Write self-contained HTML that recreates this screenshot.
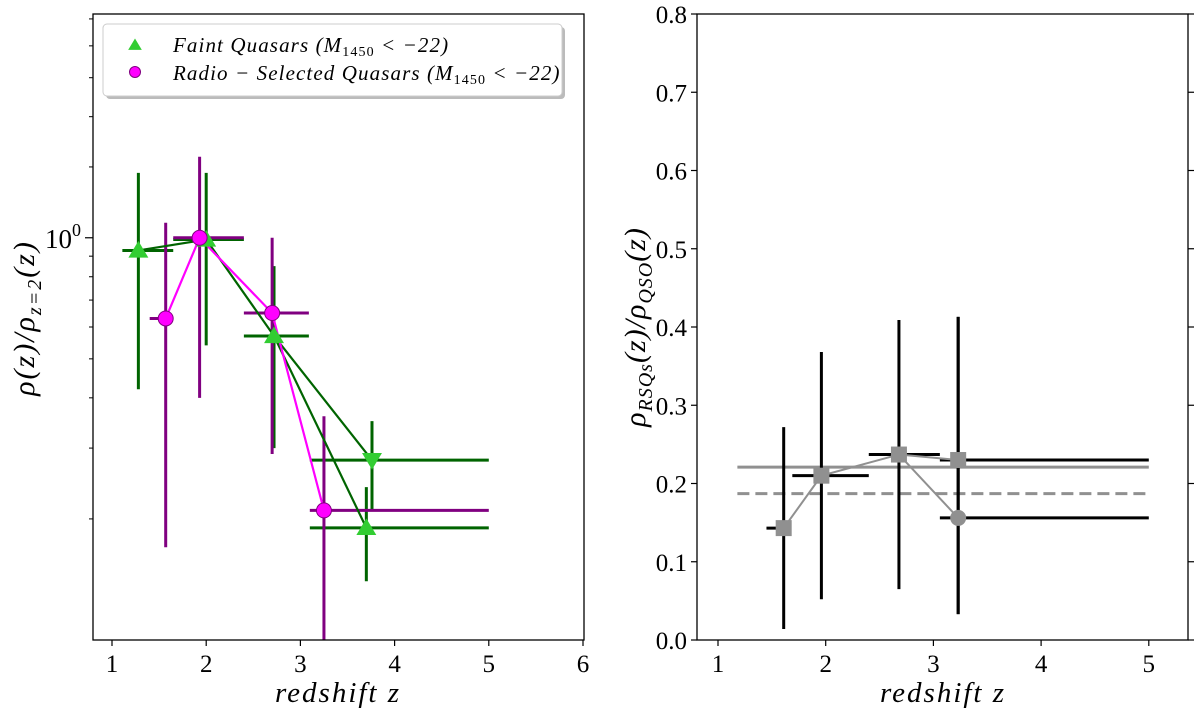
<!DOCTYPE html>
<html><head><meta charset="utf-8"><style>
html,body{margin:0;padding:0;background:#fff;overflow:hidden;width:1200px;height:715px;}
svg{display:block;font-family:"Liberation Serif",serif;}
</style></head><body>
<svg id="chart" width="1200" height="715" viewBox="0 0 1200 715"></svg>
<script>
// ---- Left panel data ----
const faintZ = [1.28, 2.0, 2.72, 3.76, 3.7];
const faintV = [0.93, 0.99, 0.57, 0.28, 0.19];
const faintLo = [0.42, 0.54, 0.30, 0.21, 0.14];
const faintHi = [1.45, 1.45, 0.85, 0.35, 0.24];
const faintZlo = [1.11, 1.65, 2.4, 3.1, 3.1];
const faintZhi = [1.65, 2.4, 3.09, 5.0, 5.0];
const faintMarker = ['up','up','up','down','up'];
const radioZ = [1.57, 1.93, 2.70, 3.25];
const radioV = [0.63, 1.0, 0.65, 0.21];
const radioLo = [0.17, 0.40, 0.29, 0.05];
const radioHi = [1.09, 1.59, 1.0, 0.36];
const radioZlo = [1.40, 1.65, 2.4, 3.1];
const radioZhi = [1.57, 2.4, 3.09, 5.0];
const leftXTicks = [1,2,3,4,5,6];
const leftMinorTicks = [0.2,0.3,0.4,0.5,0.6,0.7,0.8,0.9,1.5,2,2.5,3,3.5];
// ---- Right panel data ----
const ratioZ = [1.61, 1.96, 2.68, 3.23, 3.23];
const ratioV = [0.143, 0.210, 0.237, 0.230, 0.156];
const ratioLo = [0.014, 0.052, 0.065, 0.033, 0.033];
const ratioHi = [0.272, 0.368, 0.409, 0.413, 0.413];
const ratioZlo = [1.45, 1.69, 2.40, 3.06, 3.06];
const ratioZhi = [1.61, 2.40, 3.06, 5.0, 5.0];
const ratioMarker = ['sq','sq','sq','sq','ci'];
const meanSolid = [0.221];
const meanDashed = [0.187];
const meanSpan = [1.18, 5.0];
const rightXTicks = [1,2,3,4,5];
const rightYTicks = [0,0.1,0.2,0.3,0.4,0.5,0.6,0.7,0.8];

const NS='http://www.w3.org/2000/svg';
const svg=document.getElementById('chart');
function mk(tag,attrs,parent){const e=document.createElementNS(NS,tag);for(const k in attrs)e.setAttribute(k,attrs[k]);(parent||svg).appendChild(e);return e;}

const L={x0:93,x1:584,y0:14,y1:640};
const lx=z=>112+(z-1)*94.2;
const D=(L.y1-L.y0)/Math.log10(36);
const ly=v=>L.y1-(Math.log10(v)-Math.log10(0.1))*D;
const R={x0:697,x1:1188,y0:14,y1:640};
const rx=z=>718+(z-1)*107.7;
const ry=v=>R.y1-v*782.5;

function line(x1,y1,x2,y2,st,w,name,extra){const e=mk('line',Object.assign({x1,y1,x2,y2,stroke:st,'stroke-width':w},extra||{}));


return e;}
function text(x,y,s,size,name,extra){const e=mk('text',Object.assign({x,y,'font-size':size},extra||{}));e.textContent=s;


return e;}

const defs=mk('defs',{});
const cpL=mk('clipPath',{id:'clipL'},defs);mk('rect',{x:L.x0,y:L.y0,width:L.x1-L.x0,height:L.y1-L.y0},cpL);
const cpR=mk('clipPath',{id:'clipR'},defs);mk('rect',{x:R.x0,y:R.y0,width:R.x1-R.x0,height:R.y1-R.y0},cpR);
const gL=mk('g',{'clip-path':'url(#clipL)'});

faintZ.forEach((z,i)=>{
 let e=mk('line',{x1:lx(z),x2:lx(z),y1:ly(faintLo[i]),y2:ly(faintHi[i]),stroke:'#006400','stroke-width':3},gL);
 
 
 e=mk('line',{x1:lx(faintZlo[i]),x2:lx(faintZhi[i]),y1:ly(faintV[i]),y2:ly(faintV[i]),stroke:'#006400','stroke-width':3},gL);
 
 
});
radioZ.forEach((z,i)=>{
 let e=mk('line',{x1:lx(z),x2:lx(z),y1:ly(radioLo[i]),y2:ly(radioHi[i]),stroke:'#800080','stroke-width':3},gL);
 
 
 e=mk('line',{x1:lx(radioZlo[i]),x2:lx(radioZhi[i]),y1:ly(radioV[i]),y2:ly(radioV[i]),stroke:'#800080','stroke-width':3},gL);
 
 
});
let pts=[0,1,2,3].map(i=>lx(faintZ[i])+','+ly(faintV[i])).join(' ');
let pl=mk('polyline',{points:pts,fill:'none',stroke:'#006400','stroke-width':2.2},gL);


pl=mk('polyline',{points:[2,4].map(i=>lx(faintZ[i])+','+ly(faintV[i])).join(' '),fill:'none',stroke:'#006400','stroke-width':2.2},gL);


pl=mk('polyline',{points:radioZ.map((z,i)=>lx(z)+','+ly(radioV[i])).join(' '),fill:'none',stroke:'#ff00ff','stroke-width':2.2},gL);


function tri(cx,cy,dir,size){const s=size;return dir==='up'?`${cx},${cy-s} ${cx-s*1.05},${cy+s*0.75} ${cx+s*1.05},${cy+s*0.75}`:`${cx},${cy+s} ${cx-s*1.05},${cy-s*0.75} ${cx+s*1.05},${cy-s*0.75}`;}
faintZ.forEach((z,i)=>{
 const p=mk('polygon',{points:tri(lx(z),ly(faintV[i]),faintMarker[i],9.5),fill:'#32cd32'},gL);
 
 
});
radioZ.forEach((z,i)=>{
 const c=mk('circle',{cx:lx(z),cy:ly(radioV[i]),r:7.5,fill:'#ff00ff',stroke:'#800080','stroke-width':1},gL);
 
 
});

let fr=mk('rect',{x:L.x0,y:L.y0,width:L.x1-L.x0,height:L.y1-L.y0,fill:'none',stroke:'#000','stroke-width':1.3});


leftXTicks.forEach(t=>{
 line(lx(t),L.y1,lx(t),L.y1+6,'#000',1.2,'left-x-tick');
 text(lx(t),L.y1+32,String(t),25,'left-x-tick-label',{'text-anchor':'middle'});
});
line(L.x0-8,ly(1),L.x0,ly(1),'#000',1.2,'left-y-major-tick');
const tl=text(L.x0-12,ly(1)+10,'10',27,'left-y-tick-label',{'text-anchor':'end'});
const sup=document.createElementNS(NS,'tspan');sup.setAttribute('dy','-12');sup.setAttribute('font-size','18');sup.textContent='0';tl.appendChild(sup);
leftMinorTicks.forEach(v=>line(L.x0-4,ly(v),L.x0,ly(v),'#000',1,'left-y-minor-tick'));
text(338,702,'redshift z',29,'left-x-axis-title',{'text-anchor':'middle','font-style':'italic','letter-spacing':'2'});
const ylab=text(0,0,'',30,'left-y-axis-title',{'text-anchor':'middle','font-style':'italic',transform:'translate(34,318) rotate(-90)','letter-spacing':'2'});
ylab.innerHTML='ρ(z)/ρ<tspan font-size="20" dy="7">z=2</tspan><tspan dy="-7">(z)</tspan>';

const lg=mk('g',{});


mk('rect',{x:106,y:27,width:459,height:72,rx:4,fill:'#bbb'},lg);
mk('rect',{x:103,y:24,width:459,height:72,rx:4,fill:'#fff',stroke:'#ccc','stroke-width':1},lg);
let lm=mk('polygon',{points:tri(135,45,'up',6.5),fill:'#32cd32'},lg);


lm=mk('circle',{cx:135,cy:72,r:5.5,fill:'#ff00ff',stroke:'#800080','stroke-width':1},lg);


let t1=text(173,52,'',21,'legend-faint-label',{'font-style':'italic','letter-spacing':'1.1'});
t1.innerHTML='Faint Quasars (M<tspan font-size="14" dy="4" font-style="normal">1450</tspan><tspan dy="-4"> &lt; −22)</tspan>';
let t2=text(173,80,'',21,'legend-radio-label',{'font-style':'italic','letter-spacing':'1.1'});
t2.innerHTML='Radio − Selected Quasars (M<tspan font-size="14" dy="4" font-style="normal">1450</tspan><tspan dy="-4"> &lt; −22)</tspan>';

const gR=mk('g',{'clip-path':'url(#clipR)'});
let m=mk('line',{x1:rx(meanSpan[0]),x2:rx(meanSpan[1]),y1:ry(meanSolid[0]),y2:ry(meanSolid[0]),stroke:'#909090','stroke-width':3},gR);


m=mk('line',{x1:rx(meanSpan[0]),x2:rx(meanSpan[1]),y1:ry(meanDashed[0]),y2:ry(meanDashed[0]),stroke:'#909090','stroke-width':3,'stroke-dasharray':'12,6'},gR);


ratioZ.forEach((z,i)=>{
 let e=mk('line',{x1:rx(z),x2:rx(z),y1:ry(ratioLo[i]),y2:ry(ratioHi[i]),stroke:'#000','stroke-width':3},gR);
 
 
 e=mk('line',{x1:rx(ratioZlo[i]),x2:rx(ratioZhi[i]),y1:ry(ratioV[i]),y2:ry(ratioV[i]),stroke:'#000','stroke-width':3},gR);
 
 
});
pl=mk('polyline',{points:[0,1,2,3].map(i=>rx(ratioZ[i])+','+ry(ratioV[i])).join(' '),fill:'none',stroke:'#909090','stroke-width':2},gR);


pl=mk('polyline',{points:[2,4].map(i=>rx(ratioZ[i])+','+ry(ratioV[i])).join(' '),fill:'none',stroke:'#909090','stroke-width':2},gR);


ratioZ.forEach((z,i)=>{
 let e;
 if(ratioMarker[i]==='sq') e=mk('rect',{x:rx(z)-8,y:ry(ratioV[i])-8,width:16,height:16,fill:'#909090'},gR);
 else e=mk('circle',{cx:rx(z),cy:ry(ratioV[i]),r:8,fill:'#909090'},gR);
 
 
});
fr=mk('rect',{x:R.x0,y:R.y0,width:R.x1-R.x0,height:R.y1-R.y0,fill:'none',stroke:'#000','stroke-width':1.3});


rightXTicks.forEach(t=>{
 line(rx(t),R.y1,rx(t),R.y1+6,'#000',1.2,'right-x-tick');
 text(rx(t),R.y1+32,String(t),25,'right-x-tick-label',{'text-anchor':'middle'});
});
rightYTicks.forEach(v=>{
 line(R.x0-6,ry(v),R.x0,ry(v),'#000',1.2,'right-y-tick');
 line(R.x1,ry(v),R.x1+6,ry(v),'#000',1.2,'right-y-tick-right');
 text(R.x0-10,ry(v)+9,v.toFixed(1),25,'right-y-tick-label',{'text-anchor':'end'});
});
text(943,702,'redshift z',29,'right-x-axis-title',{'text-anchor':'middle','font-style':'italic','letter-spacing':'2'});
const ylab2=text(0,0,'',30,'right-y-axis-title',{'text-anchor':'middle','font-style':'italic',transform:'translate(645,327) rotate(-90)','letter-spacing':'1'});
ylab2.innerHTML='ρ<tspan font-size="20" dy="7">RSQs</tspan><tspan dy="-7">(z)/ρ</tspan><tspan font-size="20" dy="7">QSO</tspan><tspan dy="-7">(z)</tspan>';
</script>
</body></html>
